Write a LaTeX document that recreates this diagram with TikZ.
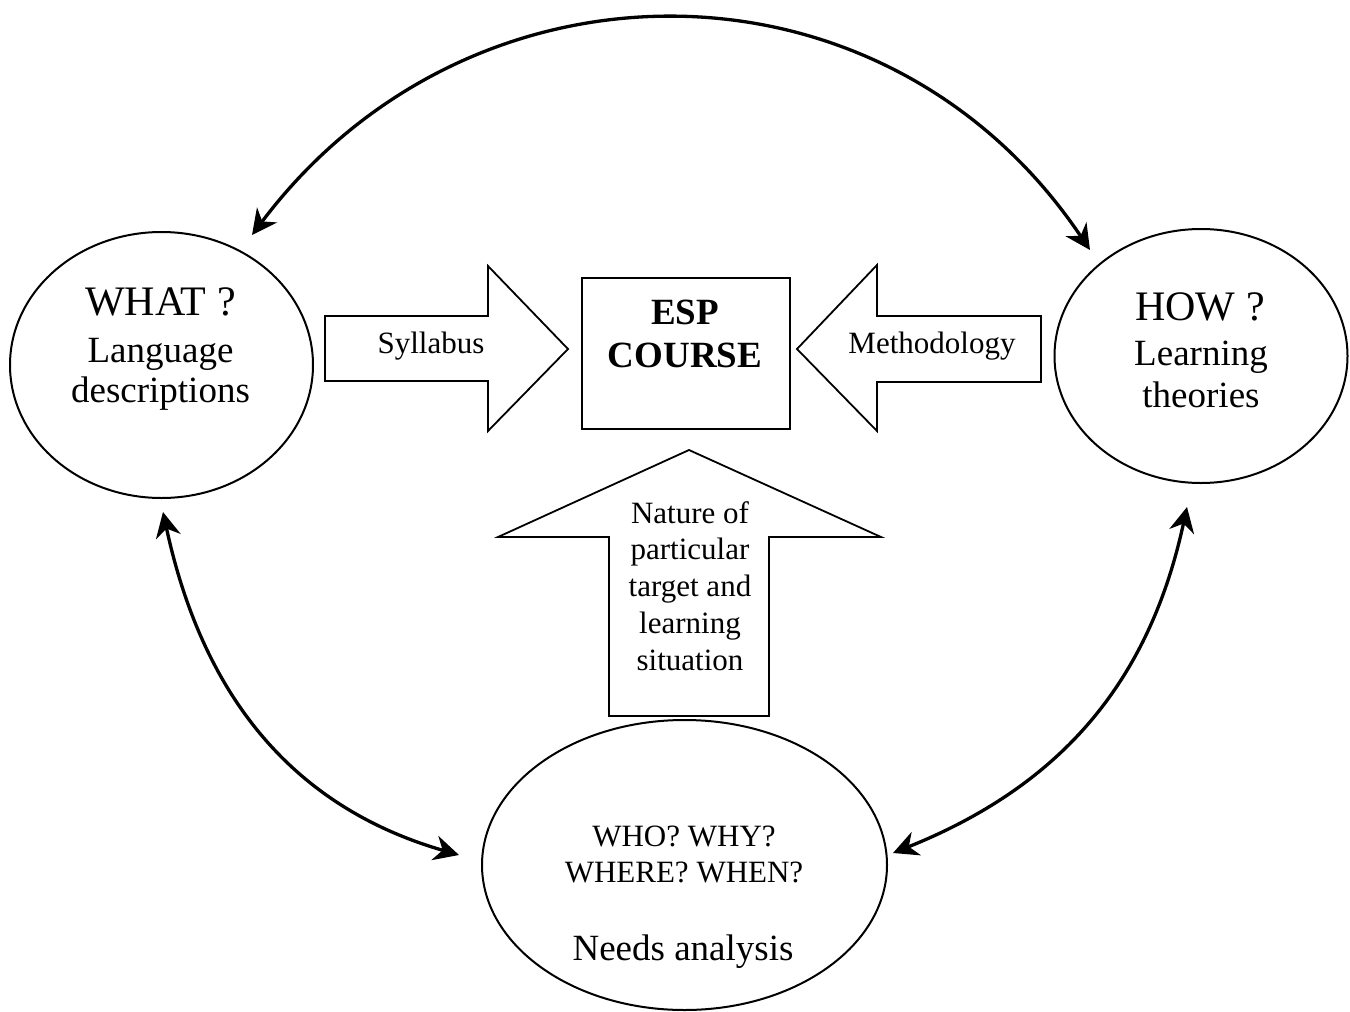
\documentclass[tikz,border=0pt]{standalone}
\usepackage{fontspec}
\setmainfont{Liberation Serif}
\usetikzlibrary{arrows.meta,shapes.geometric}
\begin{document}
\begin{tikzpicture}[x=1pt,y=-1pt,
  oval/.style={draw, ellipse, line width=2pt, inner sep=0pt},
  blockarrow/.style={draw, line width=1.8pt, line join=miter, fill=white},
  box/.style={draw, rectangle, line width=1.8pt, inner sep=0pt},
  link/.style={line width=3.3pt, {Stealth[length=25pt,width=25pt,inset=8pt]}-{Stealth[length=25pt,width=25pt,inset=8pt]}},
  txt/.style={anchor=base, inner sep=0pt},
  huge/.style={txt, font=\fontsize{42}{48}\selectfont},
  large/.style={txt, font=\fontsize{37}{44}\selectfont},
  small/.style={txt, font=\fontsize{31}{37}\selectfont},
  bold/.style={txt, font=\fontsize{37}{42}\selectfont\bfseries},
]
\useasboundingbox (0,0) rectangle (1350,1012);
\fill[white] (0,0) rectangle (1350,1012);

% ellipses and box
\node[oval, minimum width=303pt, minimum height=266pt] (what) at (161.5,365) {};
\node[oval, minimum width=293pt, minimum height=254pt] (how) at (1201,356) {};
\node[oval, minimum width=405pt, minimum height=290pt] (who) at (684.5,865) {};
\node[box, minimum width=208pt, minimum height=151pt] (esp) at (686,353.5) {};

% block arrows
\draw[blockarrow] (325,316) -- (488,316) -- (488,266) -- (568,349) -- (488,431) -- (488,381) -- (325,381) -- cycle;
\draw[blockarrow] (1041,316) -- (877,316) -- (877,265) -- (797,349) -- (877,431) -- (877,382) -- (1041,382) -- cycle;
\draw[blockarrow] (609,716) -- (609,537) -- (498,537) -- (689,450) -- (881,537) -- (769,537) -- (769,716) -- cycle;

% texts
\node[huge] (whatA) at (160.5,315) {WHAT ?};
\node[large] (whatB) at (160.5,362) {Language};
\node[large] (whatC) at (160.5,402) {descriptions};

\node[huge] (howA) at (1200,320) {HOW ?};
\node[large] (howB) at (1201,365) {Learning};
\node[large] (howC) at (1201,407) {theories};

\node[bold] (espA) at (685,324) {ESP};
\node[bold] (espB) at (685,367) {COURSE};

\node[small] (syl) at (431,353) {Syllabus};
\node[small] (meth) at (932,353) {Methodology};

\node[small] (natA) at (690,523) {Nature of};
\node[small] (natB) at (690,559) {particular};
\node[small] (natC) at (690,596) {target and};
\node[small] (natD) at (690,633) {learning};
\node[small] (natE) at (690,670) {situation};

\node[small] (whoA) at (684,846) {WHO? WHY?};
\node[small] (whoB) at (684,882) {WHERE? WHEN?};
\node[large] (whoC) at (683,960) {Needs analysis};

% curved double arrows
\coordinate (t1) at (252,235);
\coordinate (t2) at (1090,250);
\coordinate (l1) at (163,512);
\coordinate (l2) at (459,855);
\coordinate (r1) at (1187,507);
\coordinate (r2) at (893,853);
\draw[link] (t1) .. controls (470,-55) and (885,-55) .. (t2);
\draw[link] (l1) .. controls (201,688) and (286,805) .. (l2);
\draw[link] (r2) .. controls (1060,786) and (1149,683) .. (r1);
\end{tikzpicture}
\end{document}
